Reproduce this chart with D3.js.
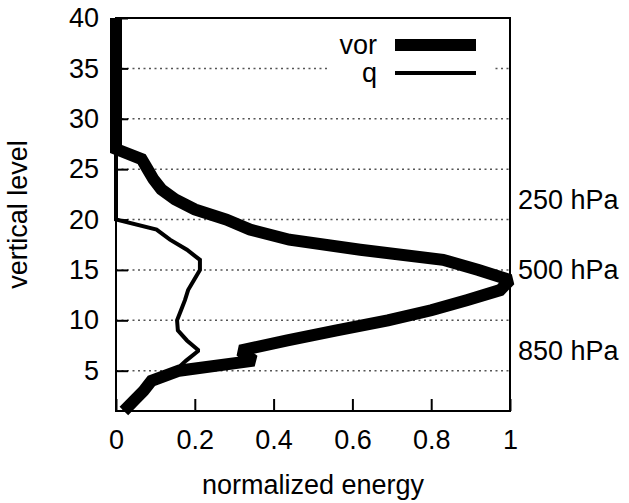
<!DOCTYPE html>
<html>
<head>
<meta charset="utf-8">
<script src="https://cdn.jsdelivr.net/npm/d3@7"></script>
<style>
    body { margin: 0; background: #ffffff; }
    svg { display: block; }
    text { font-family: "Liberation Sans", Arial, sans-serif; fill: #000000; }
</style>
</head>
<body>
<div id="chartDiv"></div>
<script>
//
// normalized energy profile by vertical level
//

var levels = [1, 2, 3, 4, 5, 6, 7, 8, 9, 10,
    11, 12, 13, 14, 15, 16, 17, 18, 19, 20,
    21, 22, 23, 24, 25, 26, 27, 28, 29, 30,
    31, 32, 33, 34, 35, 36, 37, 38, 39, 40];

var vorValues = [0.02, 0.045, 0.07, 0.09, 0.16, 0.35, 0.315, 0.435, 0.56, 0.69,
    0.80, 0.89, 0.975, 1.0, 0.92, 0.83, 0.62, 0.44, 0.34, 0.28,
    0.20, 0.15, 0.115, 0.095, 0.08, 0.065, 0.0, 0.0, 0.0, 0.0,
    0.0, 0.0, 0.0, 0.0, 0.0, 0.0, 0.0, 0.0, 0.0, 0.0];

var qValues = [0.02, 0.04, 0.065, 0.09, 0.15, 0.178, 0.21, 0.18, 0.157, 0.155,
    0.165, 0.175, 0.183, 0.198, 0.213, 0.213, 0.18, 0.137, 0.103, 0.0,
    0.0, 0.0, 0.0, 0.0, 0.0, 0.0, 0.0, 0.0, 0.0, 0.0,
    0.0, 0.0, 0.0, 0.0, 0.0, 0.0, 0.0, 0.0, 0.0, 0.0];

var xTicks = [0, 0.2, 0.4, 0.6, 0.8, 1];
var xTickLabels = ["0", "0.2", "0.4", "0.6", "0.8", "1"];
var yTicks = [5, 10, 15, 20, 25, 30, 35, 40];

var pressureLevels = [22, 15, 7];
var pressureLabels = ["250 hPa", "500 hPa", "850 hPa"];

var seriesNames = ["vor", "q"];
var seriesWidths = [12, 4];

function drawProfile(divName, width, height) {

    var fontSize = 27;
    var plotLeft = 116;
    var plotRight = 510;
    var plotTop = 18;
    var plotBottom = 411;

    d3.select("#" + divName).selectAll("svg").remove();

    var svg = d3.select("#" + divName)
        .append("svg")
        .attr("width", width)
        .attr("height", height)
        .append("g");

    var x = d3.scaleLinear().domain([0, 1]).range([plotLeft, plotRight]);
    var y = d3.scaleLinear().domain([1, 40]).range([plotBottom, plotTop]);

    // dotted grid on y ticks
    svg.selectAll(".grid")
        .data(yTicks.filter(function (d) { return d < 40; }))
        .enter()
        .append("line")
        .attr("x1", x(0))
        .attr("x2", x(1))
        .attr("y1", function (d) { return y(d); })
        .attr("y2", function (d) { return y(d); })
        .attr("stroke", "#555555")
        .attr("stroke-width", 1.5)
        .attr("stroke-dasharray", "2,3.5");

    // legend box covers the grid
    svg.append("rect")
        .attr("x", 327)
        .attr("y", 28)
        .attr("width", 166)
        .attr("height", 60)
        .attr("fill", "#ffffff");

    var legend = svg.selectAll(".legend")
        .data(seriesNames)
        .enter().append("g")
        .attr("class", "legend");

    legend.append("text")
        .attr("x", 377)
        .attr("y", function (d, idx) { return 45 + idx * 28; })
        .attr("dy", ".35em")
        .style("text-anchor", "end")
        .style("font-size", fontSize + "px")
        .text(function (d) { return d; });

    legend.append("line")
        .attr("x1", 395)
        .attr("x2", 476)
        .attr("y1", function (d, idx) { return 45 + idx * 28; })
        .attr("y2", function (d, idx) { return 45 + idx * 28; })
        .attr("stroke", "#000000")
        .attr("stroke-width", function (d, idx) { return seriesWidths[idx]; });

    // profiles
    var allSeries = [vorValues, qValues];
    var line = d3.line()
        .x(function (d) { return x(d[0]); })
        .y(function (d) { return y(d[1]); });

    svg.selectAll(".profile")
        .data(allSeries)
        .enter()
        .append("path")
        .attr("fill", "none")
        .attr("stroke", "#000000")
        .attr("stroke-width", function (d, idx) { return seriesWidths[idx]; })
        .attr("stroke-linejoin", "miter")
        .attr("stroke-miterlimit", 1.3)
        .attr("stroke-linecap", "butt")
        .attr("d", function (vals) {
            return line(vals.map(function (v, i) { return [v, levels[i]]; }));
        });

    // x-axis
    var xAxis = d3.axisBottom(x)
        .tickValues(xTicks)
        .tickSize(-12)
        .tickPadding(19)
        .tickFormat(function (d, i) { return xTickLabels[i]; });
    var gx = svg.append("g")
        .attr("transform", "translate(0," + plotBottom + ")")
        .call(xAxis);
    gx.select(".domain").remove();

    // y-axis
    var yAxis = d3.axisLeft(y)
        .tickValues(yTicks)
        .tickSize(-12)
        .tickPadding(17);
    var gy = svg.append("g")
        .attr("transform", "translate(" + plotLeft + ",0)")
        .call(yAxis);
    gy.select(".domain").remove();

    svg.selectAll(".tick line").attr("stroke", "#000000").attr("stroke-width", 2);
    svg.selectAll(".tick text")
        .style("font-size", fontSize + "px")
        .style("font-family", "'Liberation Sans', Arial, sans-serif");

    // border
    svg.append("rect")
        .attr("x", plotLeft)
        .attr("y", plotTop)
        .attr("width", plotRight - plotLeft)
        .attr("height", plotBottom - plotTop)
        .attr("fill", "none")
        .attr("stroke", "#000000")
        .attr("stroke-width", 2);

    // pressure labels on the right
    svg.selectAll(".pressure")
        .data(pressureLabels)
        .enter()
        .append("text")
        .attr("x", plotRight + 8)
        .attr("y", function (d, idx) { return y(pressureLevels[idx]); })
        .attr("dy", ".35em")
        .style("font-size", fontSize + "px")
        .text(function (d) { return d; });

    // axis titles
    svg.append("text")
        .attr("x", (plotLeft + plotRight) / 2)
        .attr("y", 494)
        .style("text-anchor", "middle")
        .style("font-size", fontSize + "px")
        .text("normalized energy");

    svg.append("text")
        .attr("transform", "translate(27," + ((plotTop + plotBottom) / 2) + ") rotate(-90)")
        .style("text-anchor", "middle")
        .style("font-size", fontSize + "px")
        .text("vertical level");

    return svg;
}

drawProfile("chartDiv", 629, 503);
</script>
</body>
</html>
